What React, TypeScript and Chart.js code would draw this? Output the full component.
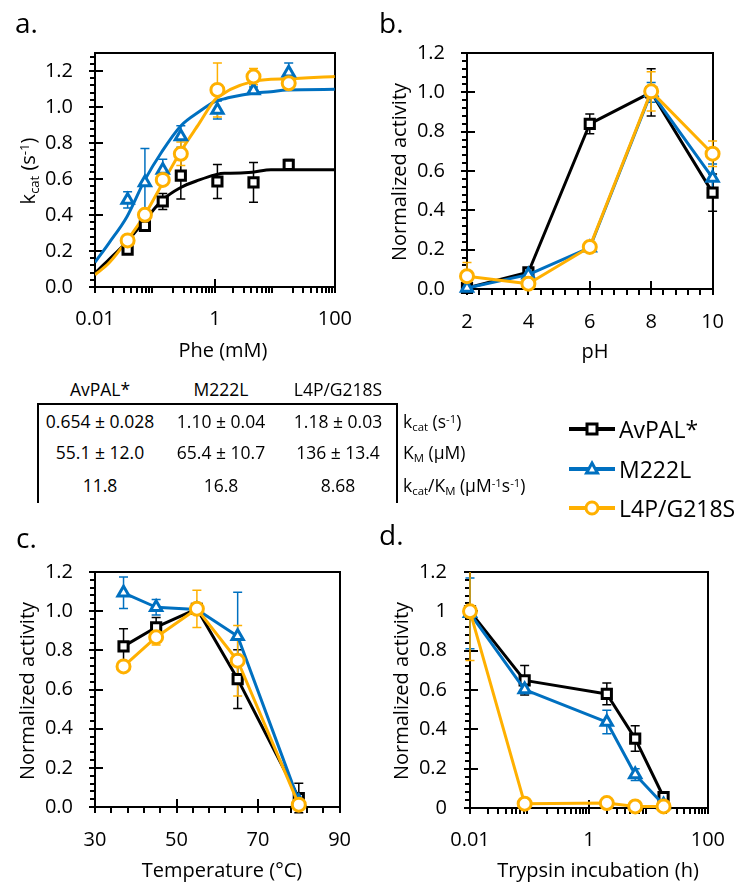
import React, { useEffect, useRef } from "react";
import { Chart, registerables } from "chart.js";

Chart.register(...registerables);

const FONT = '"Open Sans", sans-serif';
Chart.defaults.font.family = FONT;
Chart.defaults.color = "#000";

const BLACK = "#000000";
const BLUE = "#0070C0";
const ORANGE = "#FFB000";
const TICK_COLOR = "#000000";

const seriesNames = ["AvPAL*", "M222L", "L4P/G218S"];

// ---------- Panel a: kcat vs Phe (mM) ----------
const pheConc = [0.035, 0.068, 0.135, 0.27, 1.1, 4.4, 17];
const aAvpal = [0.207, 0.34, 0.475, 0.619, 0.586, 0.581, 0.679];
const aAvpalErr = [0.02, 0.02, 0.045, 0.13, 0.095, 0.11, 0.03];
const aM222L = [0.484, 0.58, 0.65, 0.836, 0.984, 1.091, 1.19];
const aM222LErr = [0.045, 0.19, 0.06, 0.06, 0.05, 0.02, 0.055];
const aL4P = [0.259, 0.401, 0.595, 0.74, 1.095, 1.169, 1.132];
const aL4PErr = [0.02, 0.02, 0.03, 0.065, 0.15, 0.045, 0.02];

const fitPhe = [0.01, 0.0171, 0.0343, 0.0678, 0.131, 0.269, 0.55, 1.0, 1.43, 1.82, 4.2, 8.6, 15.7, 100];
const fitAvpal = [0.078, 0.152, 0.253, 0.37, 0.481, 0.553, 0.595, 0.623, 0.632, 0.632, 0.638, 0.651, 0.651, 0.651];
const fitM222L = [0.137, 0.244, 0.392, 0.595, 0.753, 0.895, 0.975, 1.03, 1.045, 1.054, 1.076, 1.085, 1.095, 1.098];
const fitL4P = [0.068, 0.133, 0.259, 0.401, 0.571, 0.753, 0.91, 1.04, 1.076, 1.098, 1.141, 1.154, 1.156, 1.17];

// ---------- Panel b: pH ----------
const pHValues = [2, 4, 6, 8, 10];
const bAvpal = [0.005, 0.085, 0.84, 1.0, 0.49];
const bAvpalErr = [0, 0.02, 0.05, 0.12, 0.095];
const bM222L = [0.005, 0.073, 0.21, 1.0, 0.565];
const bM222LErr = [0, 0.01, 0.02, 0.05, 0.07];
const bL4P = [0.065, 0.027, 0.214, 1.005, 0.688];
const bL4PErr = [0.07, 0.01, 0.01, 0.1, 0.065];

// ---------- Panel c: Temperature ----------
const temperatures = [37, 45, 55, 65, 80];
const cAvpal = [0.82, 0.918, 1.012, 0.653, 0.046];
const cAvpalErr = [0.09, 0.05, 0.01, 0.15, 0.075];
const cM222L = [1.094, 1.02, 1.008, 0.872, 0.03];
const cM222LErr = [0.08, 0.04, 0.02, 0.225, 0.02];
const cL4P = [0.718, 0.867, 1.012, 0.747, 0.012];
const cL4PErr = [0.02, 0.04, 0.095, 0.18, 0.01];

// ---------- Panel d: Trypsin incubation ----------
const trypsinHours = [0.01, 0.083, 2, 6, 18];
const dAvpal = [1.0, 0.649, 0.58, 0.353, 0.056];
const dAvpalErr = [0.02, 0.075, 0.055, 0.065, 0.02];
const dM222L = [0.99, 0.602, 0.437, 0.17, 0.017];
const dM222LErr = [0.18, 0.02, 0.06, 0.03, 0.01];
const dL4P = [1.0, 0.022, 0.025, 0.008, 0.008];
const dL4PErr = [0.25, 0.01, 0.01, 0.005, 0.005];

// ---------- Tick labels ----------
const yTicks = [0, 0.2, 0.4, 0.6, 0.8, 1.0, 1.2];
const logTicks = [0.01, 1, 100];
const pHTicks = [2, 4, 6, 8, 10];
const tempTicks = [30, 50, 70, 90];

// ---------- Table ----------
const tableHeaders = ["AvPAL*", "M222L", "L4P/G218S"];
const kcatRow = ["0.654 ± 0.028", "1.10 ± 0.04", "1.18 ± 0.03"];
const kmRow = ["55.1 ± 12.0", "65.4 ± 10.7", "136 ± 13.4"];
const effRow = ["11.8", "16.8", "8.68"];

// ---------- helpers ----------
function linMinor(min: number, max: number, step: number, majorStep: number) {
  const out: number[] = [];
  for (let k = 1; min + k * step < max + 1e-9; k++) {
    const v = min + k * step;
    const r = (v - min) / majorStep;
    if (Math.abs(r - Math.round(r)) > 1e-6) out.push(v);
  }
  return out;
}
function logMinor(eMin: number, eMax: number) {
  const out: number[] = [];
  for (let e = eMin; e < eMax; e++) for (let m = 2; m <= 9; m++) out.push(m * Math.pow(10, e));
  return out;
}

function framePlugin(xMajor: number[], xMinor: number[], yMajor: number[], yMinor: number[]) {
  return {
    id: "frameTicks",
    beforeDatasetsDraw(chart: any) {
      const ctx = chart.ctx;
      const a = chart.chartArea;
      const x = chart.scales.x;
      const y = chart.scales.y;
      const L = Math.round(a.left), R = Math.round(a.right), T = Math.round(a.top), B = Math.round(a.bottom);
      ctx.save();
      ctx.fillStyle = TICK_COLOR;
      for (let i = 0; i < yMajor.length; i++) {
        const p = Math.round(y.getPixelForValue(yMajor[i]));
        ctx.fillRect(L - 6, p - 1, 14, 2);
      }
      for (let i = 0; i < yMinor.length; i++) {
        const p = Math.round(y.getPixelForValue(yMinor[i]));
        ctx.fillRect(L - 5, p - 1, 5, 2);
      }
      for (let i = 0; i < xMajor.length; i++) {
        const p = Math.round(x.getPixelForValue(xMajor[i]));
        ctx.fillRect(p - 1, B - 8, 2, 14);
      }
      for (let i = 0; i < xMinor.length; i++) {
        const p = Math.round(x.getPixelForValue(xMinor[i]));
        ctx.fillRect(p - 1, B, 2, 6);
      }
      ctx.fillStyle = "#000000";
      ctx.fillRect(L - 1, T - 1, R - L + 2, 2);
      ctx.fillRect(L - 1, B - 1, R - L + 2, 2);
      ctx.fillRect(L - 1, T - 1, 2, B - T + 2);
      ctx.fillRect(R - 1, T - 1, 2, B - T + 2);
      ctx.restore();
    },
  };
}

function errorPlugin(specs: { xs: number[]; ys: number[]; errs: number[]; color: string }[]) {
  return {
    id: "errorBars",
    beforeDatasetsDraw(chart: any) {
      const { ctx, chartArea: a, scales } = chart;
      const x = scales.x, y = scales.y;
      ctx.save();
      ctx.beginPath();
      ctx.rect(a.left - 12, a.top, a.right - a.left + 24, a.bottom - a.top + 12);
      ctx.clip();
      specs.forEach((s) => {
        ctx.strokeStyle = s.color;
        ctx.lineWidth = 1.5;
        s.xs.forEach((xv, i) => {
          const e = s.errs[i];
          if (!e) return;
          const px = x.getPixelForValue(xv);
          const t = y.getPixelForValue(s.ys[i] + e);
          const b = y.getPixelForValue(s.ys[i] - e);
          ctx.beginPath();
          ctx.moveTo(px, t); ctx.lineTo(px, b);
          ctx.moveTo(px - 4.5, t); ctx.lineTo(px + 4.5, t);
          ctx.moveTo(px - 4.5, b); ctx.lineTo(px + 4.5, b);
          ctx.stroke();
        });
      });
      ctx.restore();
    },
  };
}

function markerSeries(xs: number[], ys: number[], color: string, style: string, order: number, showLine = true) {
  return {
    data: xs.map((x, i) => ({ x, y: ys[i] })),
    showLine,
    borderColor: color,
    borderWidth: 3,
    backgroundColor: "#fff",
    pointStyle: style,
    pointRadius: 6.5,
    pointBorderWidth: 3,
    pointBorderColor: color,
    pointBackgroundColor: "#fff",
    borderJoinStyle: "round",
    clip: false,
    order,
  };
}

function fitSeries(xs: number[], ys: number[], color: string, order: number) {
  return {
    data: xs.map((x, i) => ({ x, y: ys[i] })),
    showLine: true,
    borderColor: color,
    borderWidth: 3,
    pointRadius: 0,
    cubicInterpolationMode: "monotone",
    order,
  };
}

const fmt1 = (v: number) => v.toFixed(1);
const fmtShort = (v: number) => String(Number(v.toFixed(1)));
const fmtPlain = (v: number) => String(v);

function buildConfig(p: any) {
  return {
    type: "scatter",
    data: { datasets: p.datasets },
    options: {
      animation: false,
      responsive: false,
      events: [],
      layout: { padding: { top: p.padTop, right: p.padRight, left: 0, bottom: 0 } },
      plugins: { legend: { display: false }, tooltip: { enabled: false } },
      scales: {
        x: {
          type: p.xType,
          min: p.xMin,
          max: p.xMax,
          grid: { display: false, drawTicks: false },
          border: { display: false },
          ticks: {
            padding: p.xPad,
            color: "#000",
            autoSkip: false,
            maxRotation: 0,
            font: { family: FONT, size: 20 },
            callback: (v: any) => p.xFmt(Number(v)),
          },
          afterBuildTicks: (s: any) => { s.ticks = p.xTicks.map((v: number) => ({ value: v })); },
          afterFit: (s: any) => { s.height = p.xHeight; },
        },
        y: {
          type: "linear",
          min: 0,
          max: p.yMax,
          grid: { display: false, drawTicks: false },
          border: { display: false },
          ticks: {
            padding: p.yPad,
            color: "#000",
            autoSkip: false,
            font: { family: FONT, size: 20 },
            callback: (v: any) => p.yFmt(Number(v)),
          },
          afterBuildTicks: (s: any) => { s.ticks = p.yTicks.map((v: number) => ({ value: v })); },
          afterFit: (s: any) => { s.width = p.yWidth; },
        },
      },
    },
    plugins: [
      framePlugin(p.xTicks, p.xMinor, p.yTicks, p.yMinor),
      errorPlugin(p.errors),
    ],
  };
}

function ChartCanvas({ left, top, width, height, build }: any) {
  const ref = useRef<HTMLCanvasElement>(null);
  useEffect(() => {
    if (!ref.current) return;
    const chart = new Chart(ref.current, build() as any);
    return () => chart.destroy();
  }, []);
  return (
    <canvas
      ref={ref}
      width={width}
      height={height}
      style={{ position: "absolute", left, top, width, height }}
    />
  );
}

const buildA = () =>
  buildConfig({
    xType: "logarithmic", xMin: 0.01, xMax: 100, xTicks: logTicks, xMinor: logMinor(-2, 2), xFmt: fmtPlain,
    yMax: 1.3, yTicks: yTicks, yMinor: linMinor(0, 1.3, 0.04, 0.2), yFmt: fmt1,
    yWidth: 95, xHeight: 83, padTop: 53, padRight: 20, xPad: 20, yPad: 22,
    datasets: [
      fitSeries(fitPhe, fitAvpal, BLACK, 6),
      fitSeries(fitPhe, fitM222L, BLUE, 5),
      fitSeries(fitPhe, fitL4P, ORANGE, 4),
      markerSeries(pheConc, aAvpal, BLACK, "rect", 3, false),
      markerSeries(pheConc, aM222L, BLUE, "triangle", 2, false),
      markerSeries(pheConc, aL4P, ORANGE, "circle", 1, false),
    ],
    errors: [
      { xs: pheConc, ys: aAvpal, errs: aAvpalErr, color: BLACK },
      { xs: pheConc, ys: aM222L, errs: aM222LErr, color: BLUE },
      { xs: pheConc, ys: aL4P, errs: aL4PErr, color: ORANGE },
    ],
  });

const buildB = () =>
  buildConfig({
    xType: "linear", xMin: 2, xMax: 10, xTicks: pHTicks, xMinor: linMinor(2, 10, 0.4, 2), xFmt: fmtPlain,
    yMax: 1.2, yTicks: yTicks, yMinor: linMinor(0, 1.2, 0.04, 0.2), yFmt: fmt1,
    yWidth: 95, xHeight: 81, padTop: 53, padRight: 22, xPad: 21, yPad: 22,
    datasets: [
      markerSeries(pHValues, bAvpal, BLACK, "rect", 3),
      markerSeries(pHValues, bM222L, BLUE, "triangle", 2),
      markerSeries(pHValues, bL4P, ORANGE, "circle", 1),
    ],
    errors: [
      { xs: pHValues, ys: bAvpal, errs: bAvpalErr, color: BLACK },
      { xs: pHValues, ys: bM222L, errs: bM222LErr, color: BLUE },
      { xs: pHValues, ys: bL4P, errs: bL4PErr, color: ORANGE },
    ],
  });

const buildC = () =>
  buildConfig({
    xType: "linear", xMin: 30, xMax: 90, xTicks: tempTicks, xMinor: linMinor(30, 90, 4, 20), xFmt: fmtPlain,
    yMax: 1.2, yTicks: yTicks, yMinor: linMinor(0, 1.2, 0.04, 0.2), yFmt: fmt1,
    yWidth: 95, xHeight: 76, padTop: 52, padRight: 23, xPad: 21, yPad: 22,
    datasets: [
      markerSeries(temperatures, cAvpal, BLACK, "rect", 3),
      markerSeries(temperatures, cM222L, BLUE, "triangle", 2),
      markerSeries(temperatures, cL4P, ORANGE, "circle", 1),
    ],
    errors: [
      { xs: temperatures, ys: cAvpal, errs: cAvpalErr, color: BLACK },
      { xs: temperatures, ys: cM222L, errs: cM222LErr, color: BLUE },
      { xs: temperatures, ys: cL4P, errs: cL4PErr, color: ORANGE },
    ],
  });

const buildD = () =>
  buildConfig({
    xType: "logarithmic", xMin: 0.01, xMax: 100, xTicks: logTicks, xMinor: logMinor(-2, 2), xFmt: fmtPlain,
    yMax: 1.2, yTicks: yTicks, yMinor: linMinor(0, 1.2, 0.04, 0.2), yFmt: fmtShort,
    yWidth: 98, xHeight: 75, padTop: 52, padRight: 21, xPad: 20, yPad: 23,
    datasets: [
      markerSeries(trypsinHours, dAvpal, BLACK, "rect", 3),
      markerSeries(trypsinHours, dM222L, BLUE, "triangle", 2),
      markerSeries(trypsinHours, dL4P, ORANGE, "circle", 1),
    ],
    errors: [
      { xs: trypsinHours, ys: dAvpal, errs: dAvpalErr, color: BLACK },
      { xs: trypsinHours, ys: dM222L, errs: dM222LErr, color: BLUE },
      { xs: trypsinHours, ys: dL4P, errs: dL4PErr, color: ORANGE },
    ],
  });

function Txt({ x, y, size, children, align = "center", rotate = false }: any) {
  const tx = align === "center" ? "-50%" : "0";
  return (
    <div
      style={{
        position: "absolute",
        left: x,
        top: y,
        transform: `translate(${tx}, -50%)${rotate ? " rotate(-90deg)" : ""}`,
        fontSize: size,
        fontFamily: FONT,
        lineHeight: 1,
        whiteSpace: "nowrap",
        color: "#000",
      }}
    >
      {children}
    </div>
  );
}

function Letter({ x, baseline, children }: any) {
  const size = 28;
  return (
    <div style={{ position: "absolute", left: x, top: baseline - 0.888 * size, fontSize: size, fontFamily: FONT, lineHeight: 1, color: "#000" }}>
      {children}
    </div>
  );
}

const Sub = ({ children }: any) => (
  <span style={{ fontSize: "0.65em", position: "relative", top: "0.3em" }}>{children}</span>
);
const Sup = ({ children }: any) => (
  <span style={{ fontSize: "0.65em", position: "relative", top: "-0.45em" }}>{children}</span>
);

function LegendItem({ y, color, shape, label }: any) {
  return (
    <>
      <svg width={50} height={24} style={{ position: "absolute", left: 567, top: y - 12 }}>
        <line x1={2} y1={12} x2={48} y2={12} stroke={color} strokeWidth={4} />
        {shape === "rect" && <rect x={20} y={7} width={10} height={10} fill="#fff" stroke={color} strokeWidth={3} />}
        {shape === "triangle" && <polygon points="25,6 30.5,16 19.5,16" fill="#fff" stroke={color} strokeWidth={3} strokeLinejoin="miter" />}
        {shape === "circle" && <circle cx={25} cy={12} r={6} fill="#fff" stroke={color} strokeWidth={3} />}
      </svg>
      <Txt x={619} y={y} size={23} align="left">{label}</Txt>
    </>
  );
}

export default function App() {
  const colX = [100, 221, 338];
  const rowY = [422, 453, 486];
  return (
    <div style={{ position: "absolute", left: 0, top: 0, width: 745, height: 883, background: "#fff", overflow: "hidden" }}>
      <ChartCanvas left={0} top={0} width={372} height={370} build={buildA} />
      <ChartCanvas left={372} top={0} width={373} height={370} build={buildB} />
      <ChartCanvas left={0} top={520} width={372} height={363} build={buildC} />
      <ChartCanvas left={372} top={520} width={373} height={363} build={buildD} />

      <Letter x={15} baseline={33}>a.</Letter>
      <Letter x={379} baseline={33}>b.</Letter>
      <Letter x={16} baseline={548}>c.</Letter>
      <Letter x={379} baseline={545}>d.</Letter>

      <Txt x={223} y={350} size={20}>Phe (mM)</Txt>
      <Txt x={28} y={171} size={20} rotate>
        k<Sub>cat</Sub> (s<Sup>-1</Sup>)
      </Txt>
      <Txt x={595} y={351} size={20}>pH</Txt>
      <Txt x={399} y={172} size={20} rotate>Normalized activity</Txt>
      <Txt x={222} y={870} size={20}>Temperature (°C)</Txt>
      <Txt x={27} y={691} size={20} rotate>Normalized activity</Txt>
      <Txt x={598} y={870} size={20}>Trypsin incubation (h)</Txt>
      <Txt x={401} y={691} size={20} rotate>Normalized activity</Txt>

      {tableHeaders.map((h, i) => (
        <Txt key={"h" + i} x={colX[i]} y={390} size={17.5}>{h}</Txt>
      ))}
      {[kcatRow, kmRow, effRow].map((row, r) =>
        row.map((c, i) => (
          <Txt key={"c" + r + i} x={colX[i]} y={rowY[r]} size={17.5}>{c}</Txt>
        ))
      )}
      <div style={{ position: "absolute", left: 37, top: 403, width: 361, height: 2, background: "#000" }} />
      <div style={{ position: "absolute", left: 37, top: 403, width: 2, height: 100, background: "#000" }} />
      <div style={{ position: "absolute", left: 396, top: 403, width: 2, height: 100, background: "#000" }} />
      <Txt x={403} y={rowY[0]} size={17.5} align="left">
        k<Sub>cat</Sub> (s<Sup>-1</Sup>)
      </Txt>
      <Txt x={403} y={rowY[1]} size={17.5} align="left">
        K<Sub>M</Sub> (μM)
      </Txt>
      <Txt x={403} y={rowY[2]} size={17.5} align="left">
        k<Sub>cat</Sub>/K<Sub>M</Sub> (μM<Sup>-1</Sup>s<Sup>-1</Sup>)
      </Txt>

      <LegendItem y={429} color={BLACK} shape="rect" label={seriesNames[0]} />
      <LegendItem y={469} color={BLUE} shape="triangle" label={seriesNames[1]} />
      <LegendItem y={508} color={ORANGE} shape="circle" label={seriesNames[2]} />
    </div>
  );
}
